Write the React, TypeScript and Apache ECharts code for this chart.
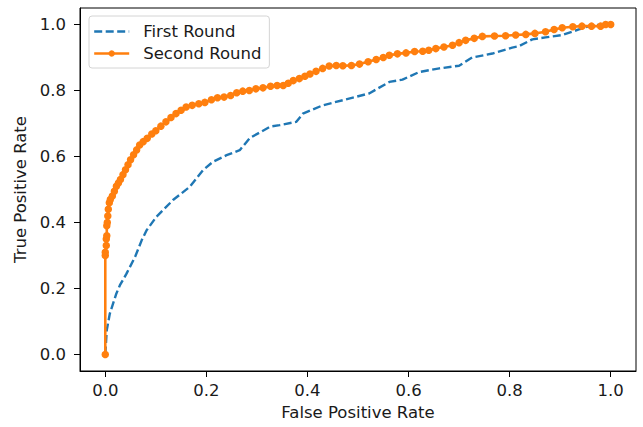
import React, { useEffect, useRef } from "react";
import * as echarts from "echarts";

const firstRoundFpr = [0, 0.003, 0.009, 0.022, 0.029, 0.042, 0.059, 0.072, 0.082, 0.101, 0.134, 0.167, 0.193, 0.213, 0.24, 0.266, 0.286, 0.327, 0.345, 0.378, 0.391, 0.43, 0.476, 0.522, 0.562, 0.588, 0.621, 0.661, 0.7, 0.726, 0.766, 0.805, 0.818, 0.845, 0.871, 0.904, 0.937, 0.963, 1.0];
const firstRoundTpr = [0, 0.074, 0.124, 0.185, 0.21, 0.245, 0.296, 0.346, 0.377, 0.417, 0.468, 0.508, 0.558, 0.584, 0.604, 0.619, 0.656, 0.691, 0.695, 0.705, 0.73, 0.755, 0.773, 0.791, 0.826, 0.833, 0.856, 0.867, 0.875, 0.9, 0.912, 0.93, 0.934, 0.955, 0.961, 0.968, 0.985, 0.998, 1.0];

const secondRoundFpr = [0, 0, 0, 0.002, 0.002, 0.003, 0.003, 0.004, 0.005, 0.006, 0.008, 0.01, 0.014, 0.018, 0.022, 0.026, 0.03, 0.035, 0.04, 0.045, 0.05, 0.056, 0.062, 0.068, 0.075, 0.083, 0.092, 0.1, 0.11, 0.12, 0.13, 0.14, 0.15, 0.16, 0.172, 0.185, 0.197, 0.21, 0.222, 0.235, 0.248, 0.26, 0.272, 0.285, 0.298, 0.312, 0.327, 0.34, 0.352, 0.362, 0.372, 0.384, 0.395, 0.405, 0.417, 0.43, 0.443, 0.457, 0.47, 0.487, 0.503, 0.52, 0.536, 0.55, 0.562, 0.578, 0.595, 0.612, 0.628, 0.64, 0.654, 0.67, 0.687, 0.7, 0.713, 0.73, 0.746, 0.77, 0.792, 0.812, 0.832, 0.85, 0.871, 0.888, 0.904, 0.925, 0.943, 0.962, 0.98, 0.99, 1.0];
const secondRoundTpr = [0, 0.3, 0.31, 0.33, 0.35, 0.36, 0.39, 0.4, 0.42, 0.44, 0.46, 0.47, 0.48, 0.495, 0.51, 0.52, 0.53, 0.545, 0.56, 0.575, 0.59, 0.605, 0.62, 0.635, 0.645, 0.655, 0.668, 0.678, 0.692, 0.705, 0.718, 0.73, 0.74, 0.75, 0.755, 0.76, 0.764, 0.772, 0.778, 0.78, 0.785, 0.793, 0.798, 0.8, 0.805, 0.808, 0.813, 0.815, 0.815, 0.822, 0.83, 0.836, 0.843, 0.85, 0.858, 0.867, 0.874, 0.876, 0.875, 0.876, 0.88, 0.887, 0.894, 0.9, 0.907, 0.911, 0.914, 0.918, 0.919, 0.922, 0.927, 0.932, 0.937, 0.945, 0.952, 0.958, 0.964, 0.965, 0.966, 0.968, 0.97, 0.973, 0.978, 0.985, 0.99, 0.993, 0.995, 0.995, 0.995, 1.0, 1.0];

const tickValues = [0, 0.2, 0.4, 0.6, 0.8, 1.0];
const seriesNames = ["First Round", "Second Round"];
const xAxisTitle = "False Positive Rate";
const yAxisTitle = "True Positive Rate";

const FONT = "DejaVu Sans";
const FS = 16.5;
const TEXT = "#1a1a1a";
const BLUE = "#1f77b4";
const ORANGE = "#ff7f0e";
const DASH = [8, 3.5];

export default function App() {
  const ref = useRef<HTMLDivElement>(null);
  useEffect(() => {
    if (!ref.current) return;
    const chart = echarts.init(ref.current, null, { renderer: "svg" });
    const axisCommon = {
      type: "value" as const,
      min: -0.05,
      max: 1.05,
      splitLine: { show: false },
      axisLine: { show: true, onZero: false, lineStyle: { color: "#000", width: 1 } },
      axisTick: { show: true, length: 6, customValues: tickValues, lineStyle: { color: "#000", width: 1 } },
      nameLocation: "middle" as const,
      nameTextStyle: { fontFamily: FONT, fontSize: FS, color: TEXT },
    };
    const labelCommon = {
      customValues: tickValues,
      fontFamily: FONT,
      fontSize: FS,
      color: TEXT,
      formatter: (v: number) => v.toFixed(1),
    };
    chart.setOption({
      animation: false,
      backgroundColor: "#fff",
      textStyle: { fontFamily: FONT },
      grid: { left: 80, right: 7, top: 8, bottom: 56, show: true, borderColor: "#000", borderWidth: 1 },
      legend: {
        left: 89,
        top: 16,
        orient: "vertical",
        padding: [7, 8, 6, 4],
        itemWidth: 35,
        itemHeight: 8,
        itemGap: 5,
        backgroundColor: "#fff",
        borderColor: "#d4d4d4",
        borderWidth: 1,
        borderRadius: 3,
        textStyle: { fontFamily: FONT, fontSize: FS, color: TEXT, padding: [0, 0, 0, 9] },
        data: [
          {
            name: seriesNames[0],
            itemStyle: { opacity: 0 },
            lineStyle: { color: BLUE, width: 2.4, type: DASH },
          },
          {
            name: seriesNames[1],
            itemStyle: { color: ORANGE },
            lineStyle: { color: ORANGE, width: 2.4 },
          },
        ],
      },
      xAxis: {
        ...axisCommon,
        name: xAxisTitle,
        nameGap: 27,
        axisLabel: { ...labelCommon, margin: 11 },
      },
      yAxis: {
        ...axisCommon,
        name: yAxisTitle,
        nameGap: 45,
        axisLabel: { ...labelCommon, margin: 14 },
      },
      series: [
        {
          name: seriesNames[0],
          type: "line",
          data: firstRoundFpr.map((x, i) => [x, firstRoundTpr[i]]),
          showSymbol: false,
          symbol: "none",
          color: BLUE,
          lineStyle: { color: BLUE, width: 2.4, type: DASH },
          z: 2,
        },
        {
          name: seriesNames[1],
          type: "line",
          data: secondRoundFpr.map((x, i) => [x, secondRoundTpr[i]]),
          symbol: "circle",
          symbolSize: 7.5,
          showAllSymbol: true,
          color: ORANGE,
          itemStyle: { color: ORANGE },
          lineStyle: { color: ORANGE, width: 2.6 },
          z: 3,
        },
      ],
    });
    return () => chart.dispose();
  }, []);
  return <div ref={ref} style={{ position: "absolute", left: 0, top: 0, width: 643, height: 427 }} />;
}
